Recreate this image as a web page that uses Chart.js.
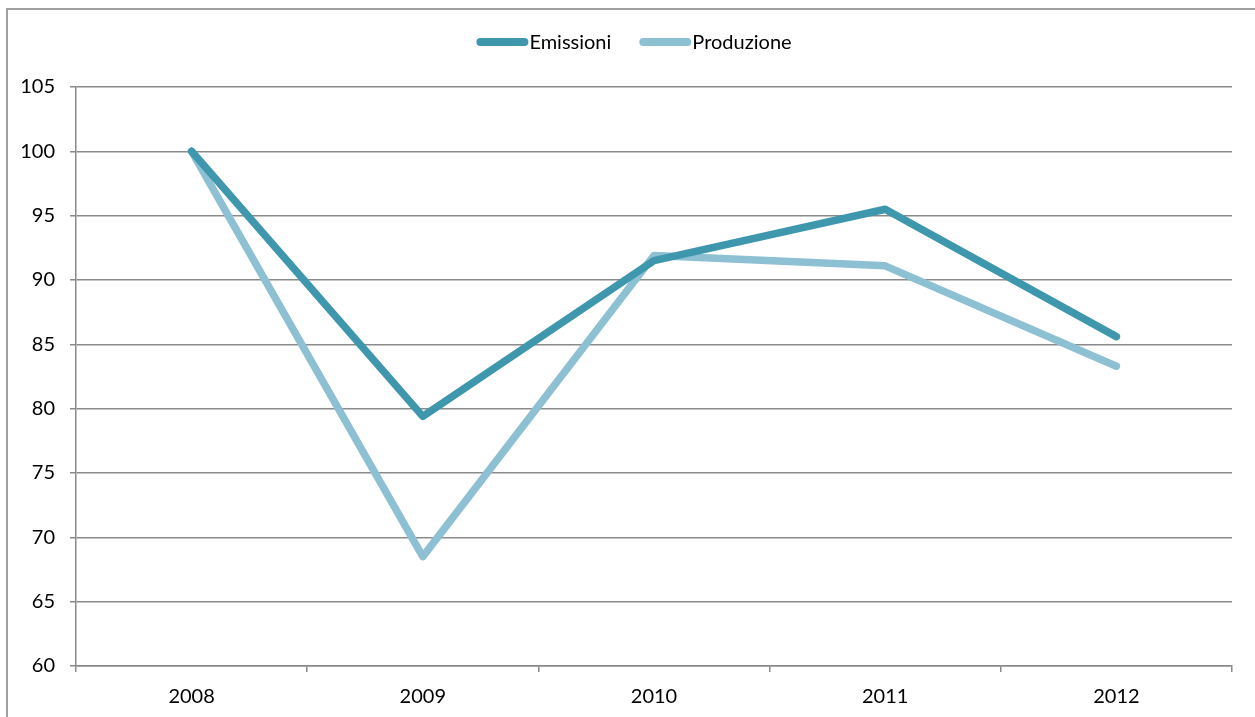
<!DOCTYPE html>
<html>
<head>
<meta charset="utf-8">
<script src="https://cdn.jsdelivr.net/npm/chart.js@4.4.1/dist/chart.umd.min.js"></script>
<style>
  html, body { margin: 0; padding: 0; background: #fff; }
  #wrap { width: 1255px; height: 717px; position: relative; }
</style>
</head>
<body>
<div id="wrap"><canvas id="chart" width="1255" height="717"></canvas></div>
<script>
// Index values, 2008 = 100
const years = ['2008', '2009', '2010', '2011', '2012'];
const emissioni = [100, 79.4, 91.5, 95.5, 85.6];
const produzione = [100, 68.5, 91.9, 91.1, 83.3];
const yTicks = [60, 65, 70, 75, 80, 85, 90, 95, 100, 105];

const colEmissioni = '#3f97ae';
const colProduzione = '#8dc0d3';
const gridColor = '#8a8a8a';
const fontFamily = 'Lato, "Open Sans", sans-serif';

// Outer frame plus a hand-drawn legend (line sample right against the label)
const framePlugin = {
    id: 'frame',
    afterDraw(chart) {
        const ctx = chart.ctx;
        ctx.save();
        ctx.strokeStyle = '#a0a0a0';
        ctx.lineWidth = 2;
        ctx.beginPath();
        ctx.moveTo(7, 717);
        ctx.lineTo(7, 9);
        ctx.lineTo(1255, 9);
        ctx.stroke();

        ctx.font = '20px ' + fontFamily;
        ctx.textBaseline = 'middle';
        ctx.fillStyle = '#000';
        ctx.lineCap = 'round';
        ctx.lineWidth = 8;
        const items = chart.data.datasets.map(d => ({ label: d.label, color: d.borderColor }));
        const sampleW = 52, gap = 1, itemGap = 28;
        let total = 0;
        items.forEach((it, i) => {
            it.w = ctx.measureText(it.label).width;
            total += sampleW + gap + it.w + (i < items.length - 1 ? itemGap : 0);
        });
        let x = 634 - total / 2;
        const y = 42;
        items.forEach(it => {
            ctx.strokeStyle = it.color;
            ctx.beginPath();
            ctx.moveTo(x + 4, y);
            ctx.lineTo(x + sampleW - 4, y);
            ctx.stroke();
            ctx.fillText(it.label, x + sampleW + gap, y + 1);
            x += sampleW + gap + it.w + itemGap;
        });
        ctx.restore();
    }
};

new Chart(document.getElementById('chart'), {
    type: 'line',
    data: {
        labels: years,
        datasets: [
            {
                label: 'Emissioni',
                data: emissioni,
                borderColor: colEmissioni,
                backgroundColor: colEmissioni,
                borderWidth: 7.5,
                pointRadius: 0,
                tension: 0,
                borderCapStyle: 'round',
                borderJoinStyle: 'round'
            },
            {
                label: 'Produzione',
                data: produzione,
                borderColor: colProduzione,
                backgroundColor: colProduzione,
                borderWidth: 7.5,
                pointRadius: 0,
                tension: 0,
                borderCapStyle: 'round',
                borderJoinStyle: 'round'
            }
        ]
    },
    options: {
        responsive: false,
        animation: false,
        layout: { padding: { top: 87, right: 23, left: 0, bottom: 0 } },
        plugins: {
            legend: { display: false },
            tooltip: { enabled: false }
        },
        scales: {
            x: {
                offset: true,
                afterFit(scale) { scale.height = 51; },
                grid: {
                    offset: true,
                    drawOnChartArea: false,
                    tickLength: 6,
                    color: gridColor,
                    lineWidth: 1.5
                },
                border: { color: gridColor, width: 1.5 },
                ticks: {
                    color: '#000',
                    padding: 13,
                    font: { family: fontFamily, size: 20 }
                }
            },
            y: {
                min: 60,
                max: 105,
                afterFit(scale) { scale.width = 76; },
                afterBuildTicks(scale) { scale.ticks = yTicks.map(v => ({ value: v })); },
                grid: {
                    tickLength: 6,
                    color: gridColor,
                    lineWidth: 1.5
                },
                border: { color: gridColor, width: 1.5 },
                ticks: {
                    color: '#000',
                    padding: 15,
                    font: { family: fontFamily, size: 20 }
                }
            }
        }
    },
    plugins: [framePlugin]
});
</script>
</body>
</html>
